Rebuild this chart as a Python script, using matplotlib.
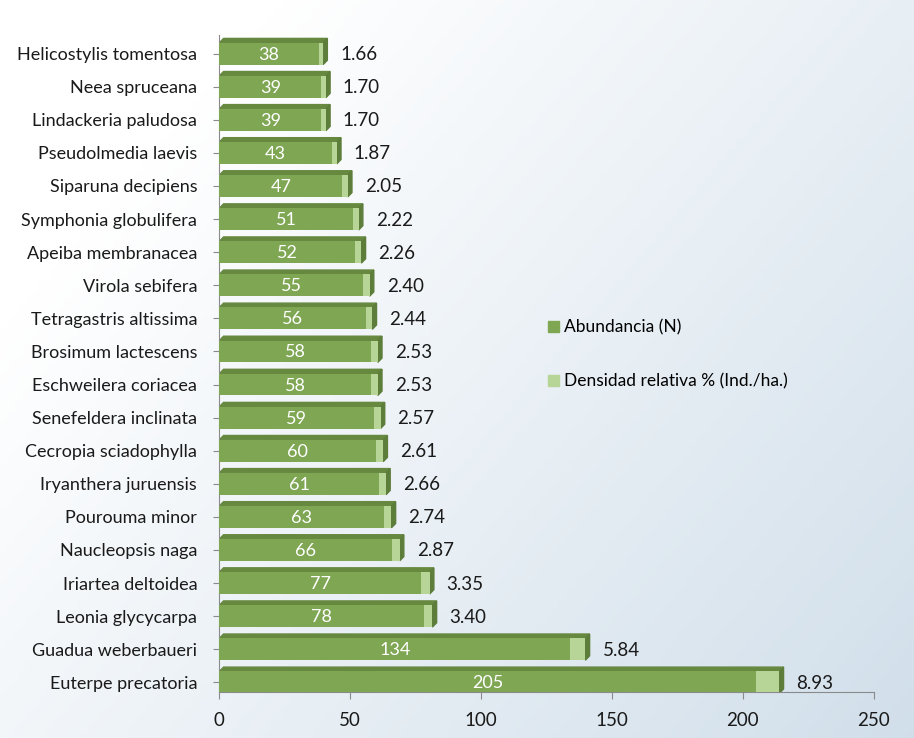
import numpy as np
import matplotlib
matplotlib.use('Agg')
import matplotlib.pyplot as plt
from matplotlib.patches import Polygon, Patch

plt.rcParams['font.family'] = ['Lato', 'DejaVu Sans']

# datos (de abajo hacia arriba)
species = ['Euterpe precatoria', 'Guadua weberbaueri', 'Leonia glycycarpa',
           'Iriartea deltoidea', 'Naucleopsis naga', 'Pourouma minor',
           'Iryanthera juruensis', 'Cecropia sciadophylla', 'Senefeldera inclinata',
           'Eschweilera coriacea', 'Brosimum lactescens', 'Tetragastris altissima',
           'Virola sebifera', 'Apeiba membranacea', 'Symphonia globulifera',
           'Siparuna decipiens', 'Pseudolmedia laevis', 'Lindackeria paludosa',
           'Neea spruceana', 'Helicostylis tomentosa']
abundancia = [205, 134, 78, 77, 66, 63, 61, 60, 59, 58, 58, 56, 55, 52, 51,
              47, 43, 39, 39, 38]
densidad = [8.93, 5.84, 3.40, 3.35, 2.87, 2.74, 2.66, 2.61, 2.57, 2.53, 2.53,
            2.44, 2.40, 2.26, 2.22, 2.05, 1.87, 1.70, 1.70, 1.66]
xticks = [0, 50, 100, 150, 200, 250]

c_dark = '#7ea653'
c_light = '#b7d597'
c_top = '#66883f'
c_side = '#5d7d3a'

fig = plt.figure(figsize=(9.14, 7.38), dpi=100)

# fondo degradado
bg = fig.add_axes([0, 0, 1, 1], zorder=-10)
gx, gy = np.meshgrid(np.linspace(0, 1, 200), np.linspace(0, 1, 200))
g = np.clip(0.65 * gx + 0.45 * gy - 0.2, 0, 1)
c0 = np.array([1.0, 1.0, 1.0])
c1 = np.array([0.80, 0.86, 0.91])
img = c0[None, None, :] * (1 - g[..., None]) + c1[None, None, :] * g[..., None]
bg.imshow(img, aspect='auto', extent=[0, 1, 0, 1], origin='upper')
bg.axis('off')

ax = fig.add_axes([0.24, 0.062, 0.716, 0.89])
ax.patch.set_alpha(0)

y = np.arange(len(species))
h = 0.66
dx, dy = 1.6, 0.13

ax.barh(y, abundancia, height=h, color=c_dark, zorder=3)
ax.barh(y, densidad, left=abundancia, height=h, color=c_light, zorder=3)

# efecto 3D: cara superior y lateral
for yi, a, d in zip(y, abundancia, densidad):
    tot = a + d
    top = yi + h / 2
    bot = yi - h / 2
    ax.add_patch(Polygon([(0, top), (tot, top), (tot + dx, top + dy), (dx, top + dy)],
                         closed=True, color=c_top, zorder=2))
    ax.add_patch(Polygon([(tot, bot), (tot + dx, bot + dy), (tot + dx, top + dy), (tot, top)],
                         closed=True, color=c_side, zorder=2))
    ax.text(a / 2, yi - 0.03, str(a), color='white', ha='center', va='center',
            fontsize=13, zorder=4)
    ax.text(tot + 6.5, yi - 0.03, f'{d:.2f}', color='#1a1a1a', ha='left', va='center',
            fontsize=13.5, zorder=4)

ax.set_xlim(0, 250)
ax.set_ylim(-0.3, len(species) - 0.45)
ax.set_xticks(xticks)
ax.set_yticks(y)
ax.set_yticklabels(species)
ax.tick_params(axis='both', labelsize=13, colors='#1a1a1a')
ax.tick_params(axis='x', length=5, color='#8a8a8a', direction='out', pad=9, labelsize=13.5)
ax.tick_params(axis='y', length=4, color='#8a8a8a', pad=12)
for s in ['top', 'right']:
    ax.spines[s].set_visible(False)
for s in ['left', 'bottom']:
    ax.spines[s].set_color('#8a8a8a')

handles = [Patch(color=c_dark, label='Abundancia (N)'),
           Patch(color=c_light, label='Densidad relativa % (Ind./ha.)')]
fig.legend(handles=handles, loc='center left', bbox_to_anchor=(0.583, 0.52),
           frameon=False, fontsize=12.5, handlelength=0.6, handleheight=0.6,
           handletextpad=0.3, labelspacing=2.2)

fig.savefig('out.png', dpi=100)
